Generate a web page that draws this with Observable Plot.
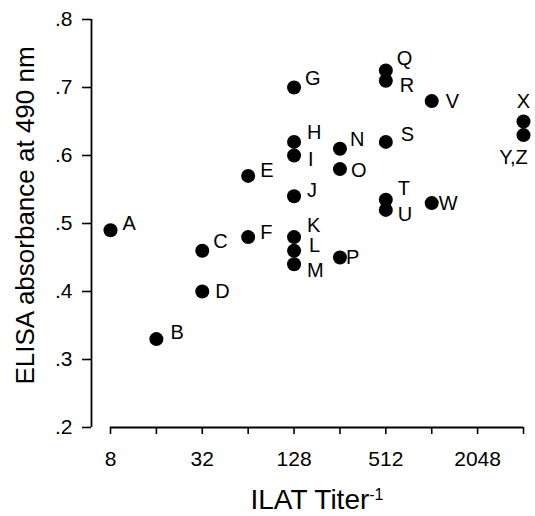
<!DOCTYPE html>
<html>
<head>
<meta charset="utf-8">
<script src="https://cdn.jsdelivr.net/npm/d3@7"></script>
<script src="https://cdn.jsdelivr.net/npm/@observablehq/plot@0.6"></script>
<style>
  html, body { margin: 0; padding: 0; background: #fff; }
</style>
</head>
<body>
<div id="chart"></div>
<script>
// ---- data ----
const labels = ["A","B","C","D","E","F","G","H","I","J","K","L","M","N","O","P","Q","R","S","T","U","V","W","X","Y,Z"];
const titers = [8,16,32,32,64,64,128,128,128,128,128,128,128,256,256,256,512,512,512,512,512,1024,1024,4096,4096];
const absorbance = [0.49,0.33,0.46,0.40,0.57,0.48,0.70,0.62,0.60,0.54,0.48,0.46,0.44,0.61,0.58,0.45,0.725,0.71,0.62,0.535,0.52,0.68,0.53,0.65,0.63];
const xTicks = [8,16,32,64,128,256,512,1024,2048,4096];
const xTickLabels = [8,32,128,512,2048];
const yTicks = [0.2,0.3,0.4,0.5,0.6,0.7,0.8];
const xTitle = "ILAT Titer";
const xTitleSup = "-1";
const yTitle = "ELISA absorbance at 490 nm";

// label placement (style, relative to each dot): [dx, dy, anchor]
const labelPlacement = {
  "A":[12,-7,"start"], "B":[14,-7,"start"], "C":[11,-9,"start"], "D":[13,0,"start"],
  "E":[12,-5,"start"], "F":[12,-5,"start"], "G":[11,-9,"start"], "H":[13,-9,"start"],
  "I":[14,4,"start"], "J":[13,-6,"start"], "K":[13,-12,"start"], "L":[15,-5,"start"],
  "M":[13,6,"start"], "N":[10,-9,"start"], "O":[11,1,"start"], "P":[6,0,"start"],
  "Q":[11,-12,"start"], "R":[14,5,"start"], "S":[15,-7,"start"], "T":[12,-11,"start"],
  "U":[12,5,"start"], "V":[14,0,"start"], "W":[7,0,"start"], "X":[0,-20,"middle"],
  "Y,Z":[-10,22,"middle"]
};

const data = labels.map((l, i) => ({label: l, titer: titers[i], abs: absorbance[i]}));

const labelMarks = data.map(d => {
  const [dx, dy, anchor] = labelPlacement[d.label];
  return Plot.text([d], {x: "titer", y: "abs", text: "label", dx, dy, textAnchor: anchor, fontSize: 20, fill: "black"});
});

const fmtY = v => d3.format(".1f")(v).replace(/^0/, "");

const plot = Plot.plot({
  width: 535,
  height: 516,
  marginLeft: 110,
  marginRight: 12,
  marginTop: 19,
  marginBottom: 89,
  style: {fontFamily: "'Liberation Sans', Arial, Helvetica, sans-serif", background: "#fff", color: "black"},
  x: {type: "log", base: 2, domain: [xTicks[0], xTicks[xTicks.length - 1]]},
  y: {domain: [yTicks[0], yTicks[yTicks.length - 1]]},
  marks: [
    Plot.axisY({ticks: yTicks, tickSize: 9, tickPadding: 10, dx: -19, tickFormat: fmtY, fontSize: 21, label: null, strokeWidth: 1.6}),
    Plot.axisX({ticks: xTicks, tickSize: 7, tickPadding: 17, tickFormat: v => xTickLabels.includes(v) ? String(v) : "", fontSize: 21, label: null, strokeWidth: 1.6}),
    Plot.ruleX([xTicks[0]], {dx: -19, stroke: "black", strokeWidth: 1.8}),
    Plot.ruleY([yTicks[0]], {stroke: "black", strokeWidth: 1.8}),
    Plot.dot(data, {x: "titer", y: "abs", r: 7, fill: "black", stroke: "none"}),
    ...labelMarks,
    Plot.text([xTitle], {text: d => d, frameAnchor: "bottom", textAnchor: "middle", lineAnchor: "middle", dy: 73, fontSize: 28, fill: "black"}),
    Plot.text([yTitle], {text: d => d, frameAnchor: "left", textAnchor: "middle", lineAnchor: "middle", rotate: -90, dx: -85, dy: -8, fontSize: 26, fill: "black"})
  ]
});

// superscript for the x-axis title
plot.querySelectorAll("text").forEach(t => {
  if (t.textContent === xTitle) {
    const ts = document.createElementNS("http://www.w3.org/2000/svg", "tspan");
    ts.setAttribute("dy", "-0.6em");
    ts.setAttribute("font-size", "16");
    ts.textContent = xTitleSup;
    t.appendChild(ts);
  }
});

document.getElementById("chart").appendChild(plot);
</script>
</body>
</html>
